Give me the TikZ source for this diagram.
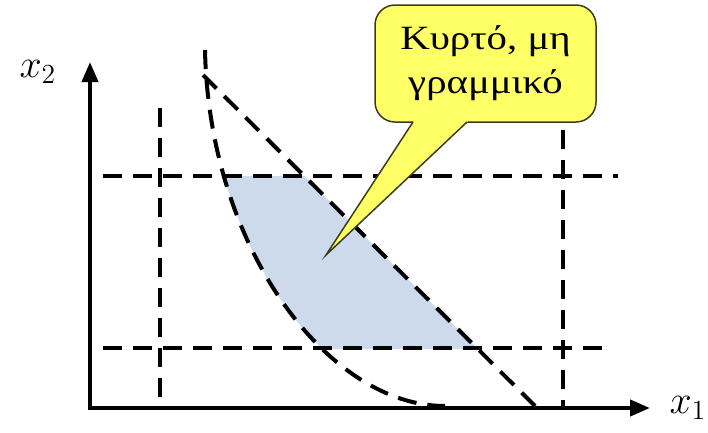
\documentclass[tikz,border=0pt]{standalone}
\usepackage{fontspec}
\usepackage{xcolor}
\newfontfamily\greekfont[FakeStretch=1.2]{Liberation Serif}
\usetikzlibrary{arrows.meta, calc}
\definecolor{regionblue}{RGB}{205, 218, 235}
\definecolor{notefill}{RGB}{255, 255, 102}
\definecolor{noteedge}{RGB}{60, 60, 30}

\begin{document}
\begin{tikzpicture}[
    x=1pt, y=-1pt,
    axis/.style={line width=4pt, {Triangle[length=20pt,width=16pt]}-{Triangle[length=20pt,width=16pt]}},
    guide/.style={line width=4pt, dash pattern=on 19pt off 11pt},
    bound/.style={line width=4pt, dash pattern=on 19pt off 11pt},
    note/.style={rectangle, rounded corners=20pt, draw=noteedge, line width=1.5pt, fill=notefill, minimum width=221pt, minimum height=117pt, align=center, font=\greekfont\fontsize{34}{44}\selectfont},
    axislabel/.style={font=\LARGE, scale=2.3}
]
    \useasboundingbox (0,0) rectangle (708,432);

    % Points
    \coordinate (origin) at (90,408);
    \coordinate (ytip) at (90,62);
    \coordinate (xtip) at (650,408);
    \coordinate (c0) at (205,50);
    \coordinate (c1) at (209,248);
    \coordinate (c2) at (328,406);
    \coordinate (c3) at (445,406);
    \coordinate (l0) at (203,75);
    \coordinate (l1) at (535,406);

    % Feasible region
    \begin{scope}
        \clip (0,176) rectangle (708,348);
        \fill[regionblue] (c0) .. controls (c1) and (c2) .. (c3) -- (l1) -- (l0) -- cycle;
    \end{scope}

    % Bounds
    \draw[guide] (160,108) -- (160,408);
    \draw[guide] (563,100) -- (563,408);
    \draw[guide] (103,176) -- (618,176);
    \draw[guide] (103,348) -- (610,348);

    % Constraints
    \draw[bound] (c0) .. controls (c1) and (c2) .. (c3);
    \draw[bound] (l0) -- (l1);

    % Axes
    \draw[axis] (ytip) |- (xtip);
    \node[axislabel] (x2) at (38,72) {$x_2$};
    \node[axislabel] (x1) at (688,408) {$x_1$};

    % Callout
    \node[note] (note) at (485.5,63.5) {Κυρτό, μη\\γραμμικό};
    \coordinate (pl) at (413,122);
    \coordinate (pr) at (467,122);
    \coordinate (tip) at (326,255);
    \fill[notefill] ($(tip)!1.06!(pl)$) -- (tip) -- ($(tip)!1.06!(pr)$) -- cycle;
    \draw[noteedge, line width=1.5pt, line join=miter] (pl) -- (tip) -- (pr);
\end{tikzpicture}
\end{document}
